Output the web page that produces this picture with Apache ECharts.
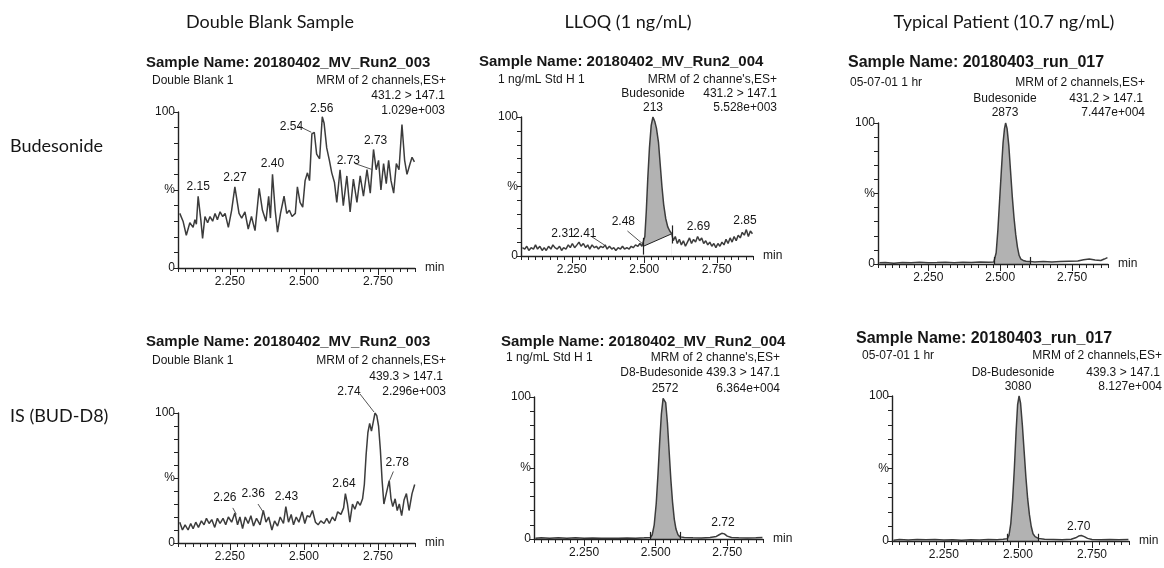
<!DOCTYPE html>
<html>
<head>
<meta charset="utf-8">
<script src="https://cdn.jsdelivr.net/npm/echarts@6/dist/echarts.min.js"></script>
<style>
  html, body { margin: 0; background: #fff; }
  #chart { width: 1164px; height: 568px; }
</style>
</head>
<body>
<div id="chart"></div>
<script>
// axis range / ticks (minutes, %)
var xMin = 2.075, xMax = 2.875, xStep = 0.025;
var xLabelVals = [2.25, 2.5, 2.75];
var yLabelVals = [0, 50, 100];
var yLabelText = ['0', '%', '100'];

// Budesonide, double blank
var blankBud = [[2.081,35],[2.092,30],[2.103,21],[2.115,29],[2.126,26],[2.132,31],[2.137,28],[2.143,46],[2.152,31],[2.158,19],
  [2.166,33],[2.175,29],[2.183,33],[2.192,30],[2.200,35],[2.208,31],[2.217,36],[2.226,33],[2.234,35],[2.245,26],
  [2.256,37],[2.267,52],[2.281,35],[2.290,32],[2.301,36],[2.312,25],[2.323,33],[2.335,24],[2.349,51],[2.360,37],
  [2.372,30],[2.381,46],[2.387,32],[2.394,60],[2.403,37],[2.411,23],[2.421,35],[2.433,46],[2.442,35],[2.451,37],
  [2.460,33],[2.471,35],[2.478,52],[2.487,42],[2.496,39],[2.504,56],[2.512,61],[2.519,56],[2.527,86],[2.535,87],
  [2.543,73],[2.553,70],[2.562,97],[2.568,93],[2.577,77],[2.586,69],[2.594,61],[2.603,55],[2.611,42],[2.622,63],
  [2.633,40],[2.645,59],[2.656,36],[2.667,57],[2.679,42],[2.690,59],[2.701,46],[2.713,63],[2.724,48],[2.735,76],
  [2.744,63],[2.752,69],[2.760,50],[2.769,67],[2.778,54],[2.786,69],[2.794,56],[2.803,48],[2.812,67],[2.821,63],
  [2.831,92],[2.840,69],[2.848,60],[2.857,66],[2.865,71],[2.873,68]];
var blankBudPeaks = [[2.143,47,'2.15'],[2.267,53,'2.27'],[2.394,62,'2.40'],[2.458,86,'2.54'],[2.560,97,'2.56'],
  [2.650,64,'2.73'],[2.742,77,'2.73']];
var blankBudLeaders = [[[2.482,91],[2.525,87]], [[2.672,67],[2.732,63]]];

// Budesonide, LLOQ
var lloqBud = [[2.080,6],[2.088,5],[2.095,7],[2.102,4],[2.110,6],[2.118,5],[2.125,8],[2.132,5],[2.140,7],[2.148,4],
  [2.155,6],[2.162,4],[2.170,7],[2.178,5],[2.185,8],[2.192,6],[2.200,5],[2.208,7],[2.215,4],[2.222,6],
  [2.230,5],[2.238,8],[2.245,6],[2.252,9],[2.260,6],[2.268,8],[2.275,10],[2.282,7],[2.290,9],[2.298,6],
  [2.305,8],[2.312,5],[2.320,8],[2.328,6],[2.335,7],[2.342,5],[2.350,7],[2.358,6],[2.365,8],[2.372,5],
  [2.380,7],[2.388,5],[2.395,6],[2.402,4],[2.410,6],[2.418,5],[2.425,7],[2.432,5],[2.440,6],[2.448,5],
  [2.455,7],[2.462,6],[2.470,8],[2.478,7],[2.485,9],[2.492,7],[2.497,8],[2.502,14],[2.507,32],[2.512,55],
  [2.518,78],[2.524,94],[2.530,100],[2.536,97],[2.542,92],[2.549,82],[2.555,66],[2.561,50],[2.567,37],[2.574,27],
  [2.581,21],[2.588,18],[2.595,16],[2.600,11],[2.607,14],[2.614,9],[2.621,12],[2.628,8],[2.635,11],[2.642,7],
  [2.649,10],[2.656,13],[2.663,9],[2.670,12],[2.677,10],[2.684,14],[2.691,11],[2.698,13],[2.705,9],[2.712,11],
  [2.719,8],[2.726,10],[2.733,7],[2.740,9],[2.747,6],[2.754,9],[2.761,7],[2.768,10],[2.775,8],[2.782,12],
  [2.789,9],[2.796,13],[2.803,10],[2.810,14],[2.817,11],[2.824,15],[2.831,13],[2.838,17],[2.845,15],[2.852,19],
  [2.859,14],[2.866,18],[2.873,16]];
var lloqBudPeaks = [[2.220,11,'2.31'],[2.295,11,'2.41'],[2.428,19,'2.48'],[2.687,16,'2.69'],[2.847,20,'2.85']];
var lloqBudLeaders = [[[2.318,14],[2.362,8]], [[2.442,18],[2.493,9]]];
var lloqBudInteg = [2.497, 2.595];
var lloqBudBase = [7, 16];

// Budesonide, patient
var patBud = [[2.080,0.8],[2.10,1],[2.13,0.6],[2.16,1],[2.19,0.8],[2.22,1.2],[2.25,0.8],[2.28,1],[2.31,1.3],[2.34,0.9],
  [2.37,1.2],[2.40,1],[2.43,1.4],[2.46,1.2],[2.478,1.5],[2.486,8],[2.492,24],[2.498,45],[2.504,66],[2.510,86],
  [2.515,96],[2.519,100],[2.524,96],[2.530,84],[2.536,66],[2.542,48],[2.548,33],[2.554,21],[2.560,12],[2.566,6],
  [2.572,3.5],[2.580,2.5],[2.590,2],[2.604,1.8],[2.62,1.5],[2.65,1.8],[2.68,1.5],[2.71,1.8],[2.74,2],[2.77,2.2],
  [2.79,3],[2.81,3.5],[2.83,2.8],[2.85,2.5],[2.862,3.5],[2.873,4.5]];
var patBudInteg = [2.478, 2.604];

// IS (BUD-D8), double blank
var blankIS = [[2.081,16],[2.090,10],[2.099,14],[2.109,10],[2.118,15],[2.126,11],[2.135,16],[2.144,12],[2.154,17],[2.163,14],
  [2.171,19],[2.180,15],[2.189,18],[2.199,12],[2.208,19],[2.217,15],[2.227,19],[2.236,14],[2.245,20],[2.256,16],
  [2.267,23],[2.276,14],[2.284,20],[2.293,11],[2.302,20],[2.312,15],[2.321,21],[2.330,13],[2.340,19],[2.352,14],
  [2.363,25],[2.372,16],[2.381,20],[2.392,10],[2.401,17],[2.411,13],[2.420,20],[2.431,15],[2.439,28],[2.448,16],
  [2.457,22],[2.465,14],[2.474,20],[2.483,16],[2.494,24],[2.503,15],[2.511,21],[2.520,20],[2.529,25],[2.539,16],
  [2.548,14],[2.557,17],[2.568,15],[2.577,19],[2.586,15],[2.596,20],[2.605,17],[2.614,24],[2.625,22],[2.634,27],
  [2.640,38],[2.647,30],[2.655,16],[2.664,30],[2.672,26],[2.681,32],[2.690,29],[2.698,34],[2.704,45],[2.710,68],
  [2.716,85],[2.722,92],[2.728,86],[2.734,93],[2.740,100],[2.746,98],[2.752,90],[2.758,72],[2.764,48],[2.770,30],
  [2.776,36],[2.782,42],[2.788,48],[2.794,34],[2.800,28],[2.808,34],[2.815,25],[2.822,30],[2.830,21],[2.838,33],
  [2.846,38],[2.855,25],[2.865,38],[2.874,45]];
var blankISPeaks = [[2.233,29,'2.26'],[2.329,32,'2.36'],[2.441,30,'2.43'],[2.635,40,'2.64'],[2.815,56,'2.78']];
var blankISLeaders = [[[2.260,27],[2.272,22]], [[2.345,30],[2.362,24]], [[2.802,55],[2.789,48]]];

// IS (BUD-D8), LLOQ
var lloqIS = [[2.080,0.5],[2.10,0.8],[2.13,0.5],[2.16,0.9],[2.19,0.6],[2.22,0.8],[2.25,0.5],[2.28,0.7],[2.31,0.5],[2.34,0.6],
  [2.37,0.5],[2.40,0.7],[2.43,0.6],[2.46,0.8],[2.482,1],[2.488,3],[2.495,10],[2.502,25],[2.508,45],[2.514,68],
  [2.520,88],[2.526,99],[2.530,100],[2.535,96],[2.541,82],[2.547,62],[2.553,42],[2.559,26],[2.565,14],[2.571,7],
  [2.578,3],[2.585,1.5],[2.60,1],[2.63,0.8],[2.66,0.7],[2.69,1],[2.712,1.8],[2.722,3],[2.731,4],[2.740,3.6],
  [2.750,2],[2.765,1],[2.79,0.8],[2.82,0.7],[2.85,0.8],[2.873,1]];
var lloqISPeaks = [[2.735,6,'2.72']];
var lloqISInteg = [2.482, 2.585];

// IS (BUD-D8), patient
var patIS = [[2.080,0.6],[2.10,1],[2.13,0.7],[2.16,1],[2.19,0.8],[2.22,1.1],[2.25,0.7],[2.28,0.9],[2.31,0.6],[2.34,0.9],
  [2.37,0.7],[2.40,1],[2.43,0.8],[2.45,1.2],[2.464,1.5],[2.470,4],[2.476,12],[2.482,28],[2.488,50],[2.494,76],
  [2.499,94],[2.504,100],[2.509,95],[2.515,80],[2.521,62],[2.527,44],[2.533,29],[2.539,18],[2.545,10],[2.551,5],
  [2.558,3],[2.569,1.8],[2.59,1.2],[2.62,1],[2.65,0.8],[2.68,1.2],[2.695,2.2],[2.705,3.4],[2.714,3.8],[2.724,3],
  [2.735,1.8],[2.75,1],[2.78,0.8],[2.81,1],[2.84,0.8],[2.873,1]];
var patISPeaks = [[2.705,5,'2.70']];
var patISInteg = [2.464, 2.569];

// header texts
var colHeads = ['Double Blank Sample', 'LLOQ (1 ng/mL)', 'Typical Patient (10.7 ng/mL)'];
var rowHeads = ['Budesonide', 'IS (BUD-D8)'];
var sampleNames = ['Sample Name: 20180402_MV_Run2_003', 'Sample Name: 20180402_MV_Run2_004', 'Sample Name: 20180403_run_017'];
var sampleIds = ['Double Blank 1', '1 ng/mL Std H 1', '05-07-01 1 hr'];
var mrmText = ['MRM of 2 channels,ES+', 'MRM of 2 channe\'s,ES+', 'MRM of 2 channels,ES+'];

var myChart = echarts.init(document.getElementById('chart'));

var grids = [
  {left: 178, top: 112, width: 237, height: 156},
  {left: 521, top: 117, width: 232, height: 139},
  {left: 878, top: 123, width: 230, height: 141},
  {left: 178, top: 413, width: 237, height: 130},
  {left: 534, top: 397, width: 229, height: 142},
  {left: 892, top: 396, width: 237, height: 145}
];

var txt = '#161616';
var ink = '#3c3c3c';

var xAxes = [], yAxes = [], series = [];
grids.forEach(function (g, i) {
  xAxes.push({
    gridIndex: i, type: 'value', min: xMin, max: xMax, interval: xStep, z: 6,
    name: 'min', nameLocation: 'end', nameGap: 10,
    nameTextStyle: {fontFamily: 'Liberation Sans', fontSize: 12, color: txt, verticalAlign: 'middle'},
    axisLine: {lineStyle: {color: '#222', width: 1.4}},
    axisTick: {length: 4, lineStyle: {color: '#222'}},
    axisLabel: {customValues: xLabelVals, formatter: function (v) { return v.toFixed(3); },
      fontFamily: 'Liberation Sans', fontSize: 12, color: txt, margin: 8},
    splitLine: {show: false}
  });
  xAxes.push({
    gridIndex: i, type: 'value', min: xMin, max: xMax, position: 'bottom', z: 6,
    axisLine: {show: false},
    axisTick: {show: true, customValues: xLabelVals, length: 7, lineStyle: {color: '#222'}},
    axisLabel: {show: false}, splitLine: {show: false}
  });
  yAxes.push({
    gridIndex: i, type: 'value', min: 0, max: 100, interval: 10, z: 6,
    axisLine: {show: true, lineStyle: {color: '#222', width: 1.4}},
    axisTick: {show: true, length: 4, lineStyle: {color: '#222'}},
    axisLabel: {customValues: yLabelVals, formatter: function (v) { return yLabelText[yLabelVals.indexOf(v)]; },
      fontFamily: 'Liberation Sans', fontSize: 12, color: txt, margin: 3},
    splitLine: {show: false}
  });
});

function traceSeries(i, data, peaks, leaders) {
  return {
    type: 'line', xAxisIndex: i * 2, yAxisIndex: i, data: data, symbol: 'none', z: 4,
    lineStyle: {color: ink, width: 1.5},
    markPoint: {
      symbol: 'circle', symbolSize: 1, itemStyle: {color: 'rgba(0,0,0,0)'},
      label: {show: true, position: 'top', distance: 1, formatter: '{b}',
        fontFamily: 'Liberation Sans', fontSize: 12, color: txt},
      data: (peaks || []).map(function (p) { return {name: p[2], coord: [p[0], p[1]]}; })
    },
    markLine: {
      symbol: 'none', silent: true, label: {show: false},
      lineStyle: {color: '#555', width: 1, type: 'solid'},
      data: (leaders || []).map(function (l) { return [{coord: l[0]}, {coord: l[1]}]; })
    }
  };
}

function fillSeries(i, data, integ, marks) {
  var part = data.filter(function (p) { return p[0] >= integ[0] && p[0] <= integ[1]; });
  return {
    type: 'line', xAxisIndex: i * 2, yAxisIndex: i, data: part, symbol: 'none', z: 2, silent: true,
    lineStyle: {width: 0}, areaStyle: {color: '#b2b2b2', opacity: 1},
    markLine: {
      symbol: 'none', silent: true, label: {show: false},
      lineStyle: {color: '#222', width: 1.2, type: 'solid'},
      data: [
        [{coord: [integ[0], marks[0]]}, {coord: [integ[0], marks[1]]}],
        [{coord: [integ[1], marks[2]]}, {coord: [integ[1], marks[3]]}]
      ]
    }
  };
}

series.push(traceSeries(0, blankBud, blankBudPeaks, blankBudLeaders));

series.push(fillSeries(1, lloqBud, lloqBudInteg, [1, 13, 9, 22]));
series.push({
  type: 'line', xAxisIndex: 2, yAxisIndex: 1, symbol: 'none', z: 3, silent: true,
  data: [[lloqBudInteg[0], lloqBudBase[0]], [lloqBudInteg[1], lloqBudBase[1]]],
  lineStyle: {color: '#222', width: 1}, areaStyle: {color: '#fff', opacity: 1}
});
series.push(traceSeries(1, lloqBud, lloqBudPeaks, lloqBudLeaders));

series.push(fillSeries(2, patBud, patBudInteg, [0, 5, 0, 5]));
series.push(traceSeries(2, patBud));

series.push(traceSeries(3, blankIS, blankISPeaks, blankISLeaders));

series.push(fillSeries(4, lloqIS, lloqISInteg, [0, 5, 0, 5]));
series.push(traceSeries(4, lloqIS, lloqISPeaks));

series.push(fillSeries(5, patIS, patISInteg, [0, 5, 0, 5]));
series.push(traceSeries(5, patIS, patISPeaks));

var graphics = [];
function lbl(text, x, y, align, font) {
  graphics.push({type: 'text', x: x, y: y, style: {text: text, align: align || 'left', verticalAlign: 'middle',
    font: font || '12px "Liberation Sans"', fill: txt}});
}
var headFont = '18px Lato';
var boldRun2 = 'bold 15px "Liberation Sans"';
var boldRun = 'bold 16px "Liberation Sans"';

lbl(colHeads[0], 270, 22, 'center', headFont);
lbl(colHeads[1], 628, 22, 'center', headFont);
lbl(colHeads[2], 1004, 22, 'center', headFont);
lbl(rowHeads[0], 10, 146, 'left', headFont);
lbl(rowHeads[1], 10, 416, 'left', headFont);

// top-left
lbl(sampleNames[0], 146, 63, 'left', boldRun2);
lbl(sampleIds[0], 152, 81);
lbl(mrmText[0], 446, 81, 'right');
lbl('431.2 > 147.1', 445, 96, 'right');
lbl('1.029e+003', 445, 111, 'right');
// top-middle
lbl(sampleNames[1], 479, 62, 'left', boldRun2);
lbl(sampleIds[1], 498, 80);
lbl(mrmText[1], 777, 80, 'right');
lbl('Budesonide', 653, 94, 'center');
lbl('431.2 > 147.1', 777, 94, 'right');
lbl('213', 653, 108, 'center');
lbl('5.528e+003', 777, 108, 'right');
// top-right
lbl(sampleNames[2], 848, 63, 'left', boldRun);
lbl(sampleIds[2], 850, 83);
lbl(mrmText[2], 1145, 83, 'right');
lbl('Budesonide', 1005, 99, 'center');
lbl('431.2 > 147.1', 1143, 99, 'right');
lbl('2873', 1005, 113, 'center');
lbl('7.447e+004', 1145, 113, 'right');
// bottom-left
lbl(sampleNames[0], 146, 342, 'left', boldRun2);
lbl(sampleIds[0], 152, 361);
lbl(mrmText[0], 446, 361, 'right');
lbl('439.3 > 147.1', 443, 377, 'right');
lbl('2.74', 349, 392, 'center');
lbl('2.296e+003', 446, 392, 'right');
graphics.push({type: 'line', shape: {x1: 360, y1: 394, x2: 374, y2: 412}, style: {stroke: '#555', lineWidth: 1}});
// bottom-middle
lbl(sampleNames[1], 501, 342, 'left', boldRun2);
lbl(sampleIds[1], 506, 358);
lbl(mrmText[1], 780, 358, 'right');
lbl('D8-Budesonide 439.3 > 147.1', 780, 373, 'right');
lbl('2572', 665, 389, 'center');
lbl('6.364e+004', 780, 389, 'right');
// bottom-right
lbl(sampleNames[2], 856, 339, 'left', boldRun);
lbl(sampleIds[2], 862, 356);
lbl(mrmText[2], 1162, 356, 'right');
lbl('D8-Budesonide', 1013, 373, 'center');
lbl('439.3 > 147.1', 1160, 373, 'right');
lbl('3080', 1018, 387, 'center');
lbl('8.127e+004', 1162, 387, 'right');

var option = {
  animation: false,
  backgroundColor: '#fff',
  grid: grids,
  xAxis: xAxes,
  yAxis: yAxes,
  series: series,
  graphic: graphics
};
myChart.setOption(option);
</script>
</body>
</html>
